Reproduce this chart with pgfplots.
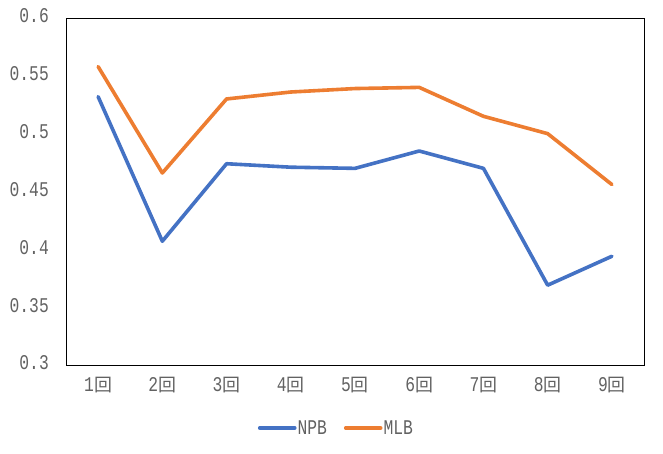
\documentclass[border=0pt]{standalone}
\usepackage{pgfplots}
\pgfplotsset{compat=1.18}
\usepackage{fontspec}
\setmainfont{Liberation Sans}
\newfontfamily\monofont[FakeStretch=0.78]{Liberation Mono}
\newfontfamily\cjk{Noto Sans CJK JP}
\definecolor{npb}{HTML}{4472C4}
\definecolor{mlb}{HTML}{ED7D31}
\definecolor{txt}{HTML}{626262}
\newcommand\lab{\monofont\fontsize{21}{24}\selectfont\color{txt}}
\newcommand\kai{{\cjk\fontsize{18}{20}\selectfont 回}}
\begin{document}
\begin{tikzpicture}[x=1bp,y=1bp]
\useasboundingbox (0,0) rectangle (663,454);
\begin{axis}[
  at={(66bp,89bp)}, anchor=south west,
  width=578bp, height=347bp, scale only axis,
  xmin=0.5, xmax=9.5, ymin=0.3, ymax=0.6,
  xtick={1,2,3,4,5,6,7,8,9},
  xticklabels={1\kai,2\kai,3\kai,4\kai,5\kai,6\kai,7\kai,8\kai,9\kai},
  ytick={0.3,0.35,0.4,0.45,0.5,0.55,0.6},
  yticklabels={0.3,0.35,0.4,0.45,0.5,0.55,0.6},
  major tick length=0pt, tick style={draw=none},
  axis line style={black, line width=0.8bp},
  tick label style={font=\lab, inner sep=0pt},
  yticklabel style={anchor=east, xshift=-17bp, yshift=2bp},
  xticklabel style={anchor=base, yshift=-27bp},
  legend style={at={(0.467,-0.1816)}, anchor=center, draw=none, fill=none,
    font=\lab, inner sep=0pt, nodes={inner sep=1bp},
    /tikz/every even column/.append style={column sep=16bp}},
  legend columns=2,
  legend image code/.code={\draw[#1] (0bp,0bp) -- (35bp,0bp);},
]
\addplot[npb, line width=3.6bp, line join=round, line cap=round] coordinates {
 (1,0.532) (2,0.407) (3,0.474) (4,0.471) (5,0.470) (6,0.485) (7,0.470) (8,0.369) (9,0.394)};
\addlegendentry{NPB}
\addplot[mlb, line width=3.6bp, line join=round, line cap=round] coordinates {
 (1,0.558) (2,0.466) (3,0.530) (4,0.536) (5,0.539) (6,0.540) (7,0.515) (8,0.500) (9,0.456)};
\addlegendentry{MLB}
\end{axis}
\end{tikzpicture}
\end{document}
